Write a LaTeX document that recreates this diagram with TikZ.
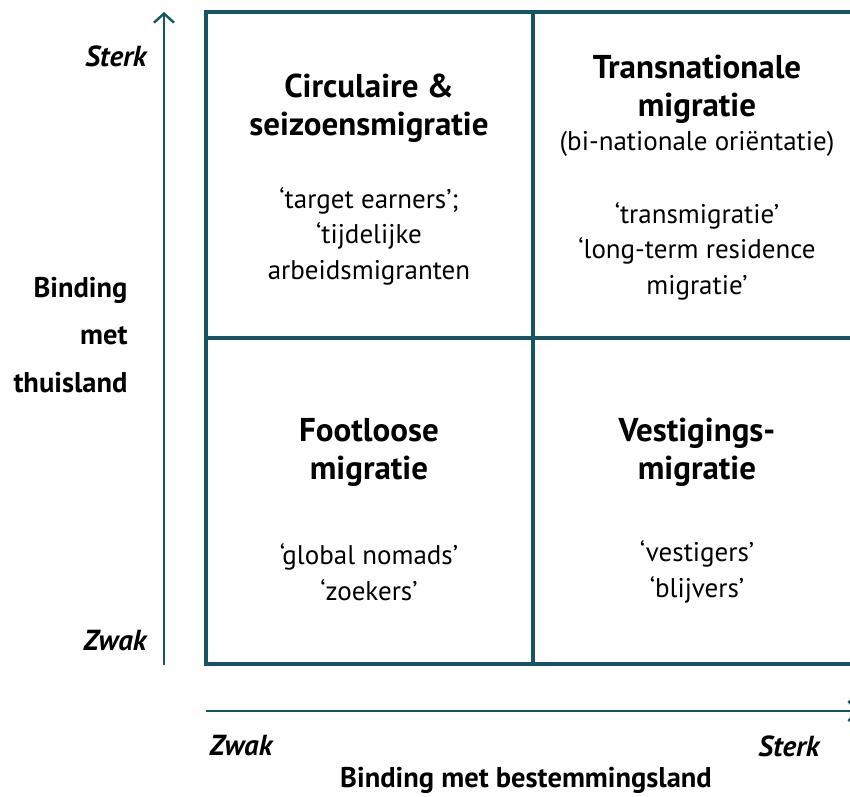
\documentclass[tikz,border=0pt]{standalone}
\usepackage{fontspec}
\setmainfont{PT Sans}
\usetikzlibrary{arrows.meta}
\usetikzlibrary{positioning}
\definecolor{teal}{RGB}{22, 84, 98}

\begin{document}
\begin{tikzpicture}[x=1pt, y=-1pt,
	axis/.style={draw=teal, line width=2.6pt, -{Straight Barb[length=9pt, width=20pt, line width=2.4pt]}},
	grid/.style={draw=teal, line width=3.2pt},
	title/.style={font=\bfseries\fontsize{33}{38}\selectfont, align=center},
	body/.style={font=\fontsize{27}{35.5}\selectfont, align=center},
	lab/.style={font=\bfseries\fontsize{28.5}{47.5}\selectfont},
	end/.style={font=\bfseries\itshape\fontsize{29}{30}\selectfont}]
	\useasboundingbox (0,0) rectangle (850,796);
	\clip (0,0) rectangle (850,796);
	
	% quadrants
	\coordinate (nw) at (206,12);
	\coordinate (se) at (862,664);
	\coordinate (n) at (533,12);
	\coordinate (s) at (533,664);
	\coordinate (w) at (206,338);
	\coordinate (e) at (862,338);
	\draw[grid] (nw) rectangle (se);
	\draw[grid] (n) -- (s);
	\draw[grid] (w) -- (e);
	
	% axes
	\coordinate (y0) at (164,665);
	\coordinate (y1) at (164,12);
	\coordinate (x0) at (206,711);
	\coordinate (x1) at (859,711);
	\draw[axis] (y0) -- (y1);
	\draw[axis] (x0) -- (x1);
	
	\node[end, anchor=east] (ysterk) at (150,56) {Sterk};
	\node[end, anchor=east] (yzwak) at (150,641) {Zwak};
	\node[lab, anchor=east, align=right] (ylab) at (131,335) {Binding\\met\\thuisland};
	\node[end, anchor=west] (xzwak) at (206,746) {Zwak};
	\node[end, anchor=east] (xsterk) at (823,746) {Sterk};
	\node[lab] (xlab) at (526,780) {Binding met bestemmingsland};
	
	% top left
	\node[title] (circ) at (369,108) {Circulaire \&\\seizoensmigratie};
	\node[body] (circtxt) at (369,236) {‘target earners’;\\‘tijdelijke\\arbeidsmigranten};
	% top right
	\node[title] (trans) at (697,89) {Transnationale\\migratie};
	\node[body] (transsub) at (697,144) {(bi-nationale oriëntatie)};
	\node[body] (transtxt) at (697,251) {‘transmigratie’\\‘long-term residence\\migratie’};
	% bottom left
	\node[title] (foot) at (369,452) {Footloose\\migratie};
	\node[body] (foottxt) at (369,572) {‘global nomads’\\‘zoekers’};
	% bottom right
	\node[title] (vest) at (697,452) {Vestigings-\\migratie};
	\node[body] (vesttxt) at (697,572) {‘vestigers’\\‘blijvers’};
\end{tikzpicture}
\end{document}
